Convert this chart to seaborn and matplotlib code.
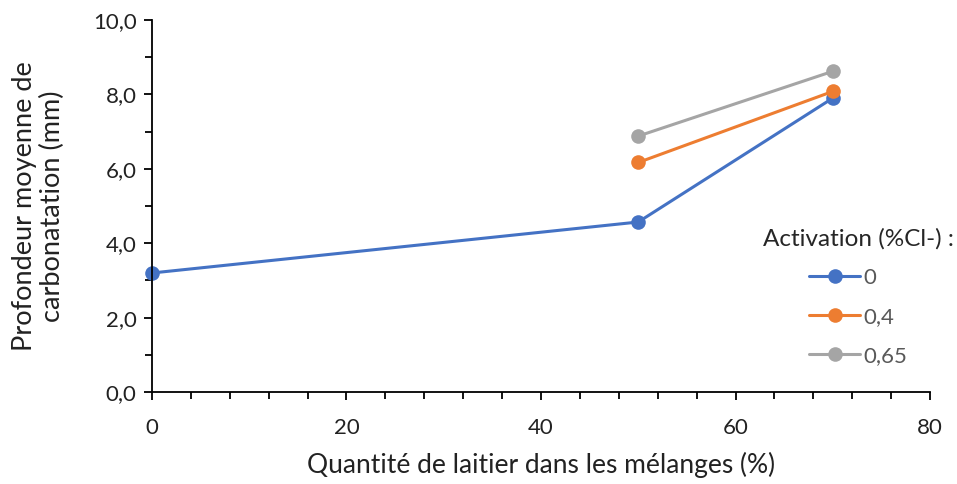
import pandas as pd
import matplotlib
matplotlib.use("Agg")
import matplotlib.pyplot as plt
from matplotlib.ticker import FuncFormatter, MultipleLocator
import seaborn as sns

# Data
laitier_0 = [0, 50, 70]
depth_0 = [3.20, 4.57, 7.90]
laitier_04 = [50, 70]
depth_04 = [6.17, 8.08]
laitier_065 = [50, 70]
depth_065 = [6.88, 8.62]
activation_labels = ["0", "0,4", "0,65"]
colors = ["#4472C4", "#ED7D31", "#A5A5A5"]

df = pd.concat([
    pd.DataFrame({"laitier": laitier_0, "depth": depth_0, "activation": activation_labels[0]}),
    pd.DataFrame({"laitier": laitier_04, "depth": depth_04, "activation": activation_labels[1]}),
    pd.DataFrame({"laitier": laitier_065, "depth": depth_065, "activation": activation_labels[2]}),
], ignore_index=True)

sns.set_theme(style="ticks")
plt.rcParams['font.family'] = ['Lato', 'DejaVu Sans']

fig = plt.figure(figsize=(9.57, 4.84), dpi=100)
ax = fig.add_axes([0.1588, 0.19, 0.8130, 0.7687])

sns.lineplot(data=df, x="laitier", y="depth", hue="activation",
             hue_order=activation_labels, palette=dict(zip(activation_labels, colors)),
             marker="o", markersize=10.5, markeredgewidth=0, linewidth=2.2,
             ax=ax, legend=False)

ax.set_xlim(0, 80)
ax.set_ylim(0, 10)
ax.xaxis.set_major_locator(MultipleLocator(20))
ax.xaxis.set_minor_locator(MultipleLocator(4))
ax.yaxis.set_major_locator(MultipleLocator(2))
ax.yaxis.set_minor_locator(MultipleLocator(1))
ax.yaxis.set_major_formatter(FuncFormatter(lambda v, p: f"{v:.1f}".replace(".", ",")))
ax.tick_params(which="major", length=6, width=1.3, color="black", labelsize=16, labelcolor="#222222")
ax.tick_params(which="minor", length=5, width=1.3, color="black")
ax.tick_params(axis="x", pad=13)
ax.tick_params(axis="y", pad=5)
for s in ["left", "bottom"]:
    ax.spines[s].set_color("black")
    ax.spines[s].set_linewidth(1.3)
sns.despine(ax=ax)
for l in ax.get_lines():
    l.set_clip_on(False)

ax.set_xlabel("Quantité de laitier dans les mélanges (%)", fontsize=19, labelpad=10, color="#222222")
ax.set_ylabel("Profondeur moyenne de\ncarbonatation (mm)", fontsize=19.5, labelpad=20,
              color="#222222", linespacing=1.15)

handles = ax.get_lines()[:3]
leg = fig.legend(handles, activation_labels, title="Activation (%Cl-) :",
                 loc="upper left", bbox_to_anchor=(0.788, 0.548), frameon=False,
                 fontsize=16, title_fontsize=17.5, handlelength=2.3, labelspacing=0.85,
                 handletextpad=0.15, borderaxespad=0)
for t in leg.get_texts():
    t.set_color("#595959")

fig.savefig("out.png", dpi=100)
